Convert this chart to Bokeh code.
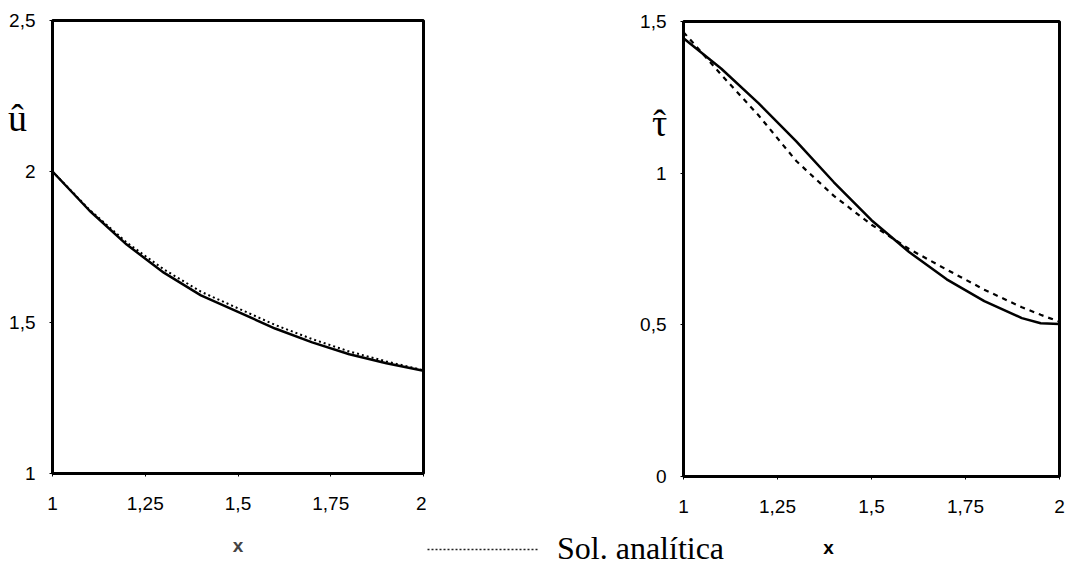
from bokeh.plotting import figure
from bokeh.layouts import row
from bokeh.models import FixedTicker, Label, Legend, LegendItem, Range1d
from bokeh.embed import file_html
from bokeh.resources import INLINE

# ---- data: left panel (u hat) ----
x_u = [1.0, 1.1, 1.2, 1.3, 1.4, 1.5, 1.6, 1.7, 1.8, 1.9, 2.0]
u_num = [2.0, 1.87, 1.758, 1.665, 1.59, 1.535, 1.48, 1.434, 1.395, 1.365, 1.34]
u_ana = [2.0, 1.873, 1.765, 1.676, 1.602, 1.547, 1.492, 1.445, 1.404, 1.371, 1.342]

# ---- data: right panel (tau hat) ----
x_t = [1.0, 1.1, 1.2, 1.3, 1.4, 1.5, 1.6, 1.7, 1.8, 1.9, 1.95, 2.0]
t_num = [1.445, 1.345, 1.23, 1.105, 0.97, 0.845, 0.74, 0.65, 0.578, 0.522, 0.505, 0.503]
t_ana = [1.465, 1.325, 1.19, 1.04, 0.925, 0.83, 0.75, 0.682, 0.616, 0.558, 0.533, 0.51]

# ---- ticks ----
x_ticks = [1.0, 1.25, 1.5, 1.75, 2.0]
x_tick_labels = ["1", "1,25", "1,5", "1,75", "2"]
u_ticks = [1.0, 1.5, 2.0, 2.5]
u_tick_labels = ["1", "1,5", "2", "2,5"]
t_ticks = [0.0, 0.5, 1.0, 1.5]
t_tick_labels = ["0", "0,5", "1", "1,5"]

legend_label = "Sol. analítica"
u_title = "û"
t_title = "τ"
hat = "ˆ"
x_title = "x"
SANS = "Liberation Sans"
SERIF = "Liberation Serif"

H = 565  # canvas height (px)


def make_panel(width, box_px, xt, xl, yt, yl):
    """Figure whose plot area is the whole canvas; the boxed plot region
    [xt[0], xt[-1]] x [yt[0], yt[-1]] sits at pixel box (left, right, top, bottom)."""
    left, right, top, bottom = box_px
    kx = (xt[-1] - xt[0]) / (right - left)
    ky = (yt[-1] - yt[0]) / (bottom - top)
    xr = Range1d(xt[0] - left * kx, xt[-1] + (width - right) * kx)
    yr = Range1d(yt[0] - (H - bottom) * ky, yt[-1] + top * ky)
    p = figure(width=width, height=H, output_backend="svg", toolbar_location=None,
               x_range=xr, y_range=yr, min_border=0, min_border_left=0, min_border_right=0,
               min_border_top=0, min_border_bottom=0)
    p.outline_line_color = None
    p.grid.visible = False
    p.background_fill_color = "white"
    p.border_fill_color = "white"
    for ax, t, l in ((p.xaxis[0], xt, xl), (p.yaxis[0], yt, yl)):
        ax.ticker = FixedTicker(ticks=t)
        ax.major_label_overrides = {float(k): s for k, s in zip(t, l)}
        ax.bounds = (t[0], t[-1])
        ax.axis_line_color = None
        ax.major_tick_in = 0
        ax.major_tick_out = 3
        ax.major_tick_line_color = "black"
        ax.minor_tick_line_color = None
        ax.major_label_text_font = SANS
        ax.major_label_text_font_size = "19px"
        ax.major_label_text_color = "black"
    p.xaxis[0].fixed_location = yt[0]
    p.yaxis[0].fixed_location = xt[0]
    p.xaxis[0].major_label_standoff = 20
    p.yaxis[0].major_label_standoff = 14
    # plot box
    p.quad(left=[xt[0]], right=[xt[-1]], bottom=[yt[0]], top=[yt[-1]],
           fill_color=None, line_color="black", line_width=3)
    return p


# ---- left figure ----
p1 = make_panel(426, (52, 423, 20, 473), x_ticks, x_tick_labels, u_ticks, u_tick_labels)
p1.xaxis[0].axis_label = x_title
p1.xaxis[0].axis_label_text_font = SANS
p1.xaxis[0].axis_label_text_font_style = "bold"
p1.xaxis[0].axis_label_text_font_size = "19px"
p1.xaxis[0].axis_label_standoff = 22
p1.line(x_u, u_ana, line_color="black", line_width=2, line_dash="2 3")
p1.line(x_u, u_num, line_color="black", line_width=2.5)
p1.add_layout(Label(x=0.9057, y=2.1755, text=u_title, text_font=SERIF, text_font_size="38px",
                    text_align="center", text_baseline="alphabetic", text_color="black"))

# ---- right figure ----
p2 = make_panel(648, (257, 633, 21, 476), x_ticks, x_tick_labels, t_ticks, t_tick_labels)
p2.line(x_t, t_ana, line_color="black", line_width=2.2, line_dash="5 5")
p2.line(x_t, t_num, line_color="black", line_width=2.5)
p2.add_layout(Label(x=0.9362, y=1.167, text=t_title, text_font=SERIF, text_font_size="38px",
                    text_align="center", text_baseline="alphabetic", text_color="black"))
p2.add_layout(Label(x=0.9362, y=1.167, text=hat, text_font=SERIF, text_font_size="38px",
                    text_align="center", text_baseline="alphabetic", text_color="black"))
p2.add_layout(Label(x=1.3856, y=-0.234, text=x_title, text_font=SANS, text_font_style="bold",
                    text_font_size="19px", text_align="center", text_baseline="middle",
                    text_color="black"))

# legend sample: the analytic solution (hidden copy), drawn as a fine dotted line
sample = p2.line(x_u, u_ana, line_color="#222222", line_width=1.4, line_dash="2 2", visible=False)
leg = Legend(items=[LegendItem(label=legend_label, renderers=[sample])],
             location=(1, -2), glyph_width=111, glyph_height=20, label_standoff=19,
             padding=0, margin=0, spacing=0, border_line_color=None, background_fill_alpha=0,
             inactive_fill_alpha=0,
             label_text_font=SERIF, label_text_font_size="32px", label_text_color="black")
p2.add_layout(leg, "center")

layout = row(p1, p2)
open("out.html", "w").write(file_html(layout, INLINE))
